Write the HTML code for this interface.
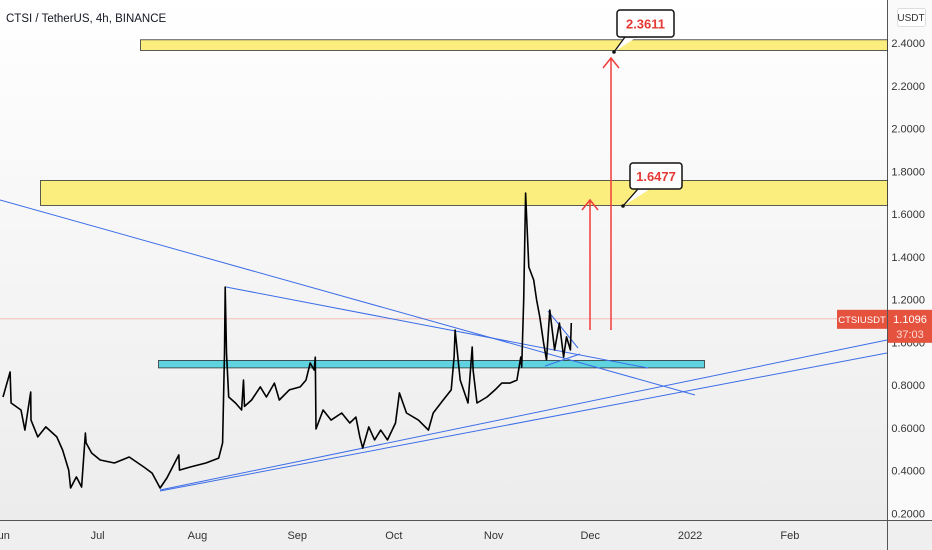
<!DOCTYPE html>
<html><head><meta charset="utf-8"><style>
html,body{margin:0;padding:0;width:932px;height:550px;overflow:hidden;background:#fff;font-family:"Liberation Sans",sans-serif}
svg{display:block}
</style></head><body>
<svg id="chart" width="932" height="550" xmlns="http://www.w3.org/2000/svg">
<defs><linearGradient id="bg" x1="0" y1="0" x2="0" y2="1"><stop offset="0" stop-color="#ffffff"/><stop offset="1" stop-color="#ececec"/></linearGradient></defs>
<rect x="0" y="0" width="887" height="520" fill="url(#bg)"/>
<rect x="0" y="520" width="932" height="30" fill="#efefef"/>
<rect x="888" y="0" width="44" height="520" fill="#fafafa"/>
<line x1="887.5" y1="0" x2="887.5" y2="550" stroke="#555" stroke-width="1"/>
<line x1="0" y1="520.5" x2="932" y2="520.5" stroke="#555" stroke-width="1"/>
<g id="gy"></g><g id="gx"></g><g id="zones"></g><g id="lines"></g><g id="series"></g><g id="annot"></g>
<text x="6" y="22" font-size="11.5" fill="#131722">CTSI / TetherUS, 4h, BINANCE</text>
<rect x="897.5" y="8.5" width="28" height="18" rx="2" fill="#fff" stroke="#ddd"/>
<text x="911" y="21" font-size="10" text-anchor="middle" fill="#333">USDT</text>
</svg>
<script>
const priceTicks=[2.4,2.2,2.0,1.8,1.6,1.4,1.2,1.0,0.8,0.6,0.4,0.2];
const monthLabels=["Jun","Jul","Aug","Sep","Oct","Nov","Dec","2022","Feb"];
const monthDays=[0,30,61,92,122,153,183,214,245];
const seriesDays=[0,2.2,2.5,5.6,6.8,8.6,8.7,10.8,13.3,16.7,18.5,20.4,21.0,22.8,24.4,25.6,25.8,27.5,30.2,34.6,39.2,43.8,46.3,48.8,50.9,54.6,54.8,58.0,63.0,67.0,68.2,68.8,69.0,69.4,70.1,72.2,74.1,74.7,75.0,77.2,79.9,81.8,84.3,85.8,88.9,92.3,94.1,95.4,96.6,97.0,97.2,99.4,101.9,105.2,107.7,109.6,110.8,111.7,113.6,115.4,117.3,119.4,121.9,123.1,125.3,129.0,132.1,133.6,136.7,139.2,140.1,140.4,142.0,144.4,145.7,146.0,147.2,150.3,152.8,154.9,157.4,159.6,160.8,161.1,161.7,162.3,163.3,164.8,165.7,166.7,167.9,168.8,169.8,171.3,172.8,174.1,175.0,176.2,176.5];
const seriesPrices=[0.744,0.861,0.716,0.683,0.589,0.767,0.636,0.557,0.604,0.557,0.496,0.402,0.318,0.370,0.323,0.575,0.529,0.482,0.449,0.435,0.463,0.416,0.388,0.318,0.365,0.473,0.402,0.416,0.435,0.458,0.529,0.950,1.258,0.950,0.744,0.716,0.683,0.823,0.700,0.730,0.791,0.744,0.809,0.730,0.777,0.791,0.823,0.903,0.870,0.930,0.594,0.683,0.636,0.669,0.622,0.650,0.557,0.505,0.604,0.543,0.589,0.543,0.622,0.763,0.669,0.636,0.589,0.669,0.730,0.777,0.931,1.057,0.823,0.716,0.978,0.870,0.716,0.744,0.777,0.809,0.809,0.823,0.931,0.884,1.198,1.698,1.352,1.291,1.198,1.118,0.997,0.917,1.151,0.964,1.090,0.931,1.025,0.964,1.090,1.198];
const zonePrices=[[2.415,2.365,1.0],[1.757,1.64,0.0],[0.915,0.88,2.0]];
const X=d=>3+d*3.22;
const Y=p=>43+(2.4-p)*213.75;
const NS="http://www.w3.org/2000/svg";
function mk(tag,attrs,parent){const e=document.createElementNS(NS,tag);for(const k in attrs)e.setAttribute(k,attrs[k]);document.getElementById(parent).appendChild(e);return e;}
priceTicks.forEach(p=>{
  const t=mk('text',{x:925,y:Y(p)+4,'font-size':'11','text-anchor':'end',fill:'#333'},'gy');
  
  
  t.textContent=p.toFixed(4);
});
monthLabels.forEach((m,i)=>{
  const t=mk('text',{x:X(monthDays[i])-2,y:539,'font-size':'11','text-anchor':'middle',fill:'#333'},'gx');
  
  
  t.textContent=m;
});
const zoneX=[[140,887],[40,887],[158,704]];
const zoneFill=['#fbee7f','#fbee7f','#5fd3e0'];
zonePrices.forEach((z,i)=>{
  const r=mk('rect',{x:zoneX[i][0]+0.5,y:Y(z[0]),width:zoneX[i][1]-zoneX[i][0],height:Y(z[1])-Y(z[0]),fill:zoneFill[i],stroke:'#333','stroke-width':'0.8'},'zones');
  
  
});
const pl=mk('line',{x1:0,y1:Y(1.1096),x2:887,y2:Y(1.1096),stroke:'#f3b3ae','stroke-width':'0.8'},'lines');


const tl=[[0,200,695,395],[226,287,648,368],[548,311,578,348],[545,366,580,354],[160,490,887,340],[160,491,887,353]];
tl.forEach(l=>{
  const e=mk('line',{x1:l[0],y1:l[1],x2:l[2],y2:l[3],stroke:'#3d6ee8','stroke-width':'1'},'lines');
  
  
});
const pts=seriesDays.map((d,i)=>X(d).toFixed(1)+','+Y(seriesPrices[i]).toFixed(1)).join(' ');
const s=mk('polyline',{points:pts,fill:'none',stroke:'#000','stroke-width':'1.6','stroke-linejoin':'round'},'series');


[[590,330,200],[611,330,58]].forEach(a=>{
  const e=mk('path',{d:`M${a[0]} ${a[1]} L${a[0]} ${a[2]} M${a[0]-8} ${a[2]+10} L${a[0]} ${a[2]} L${a[0]+8} ${a[2]+10}`,fill:'none',stroke:'#f23b3b','stroke-width':'1.5'},'annot');
  
  
});
[[617,10,57,27,614,52,'2.3611'],[630,163,52,26,623,206,'1.6477']].forEach(c=>{
  const p=mk('path',{d:`M${c[4]} ${c[5]} L${c[0]+8} ${c[1]+c[3]} L${c[0]+20} ${c[1]+c[3]}`,fill:'#fff',stroke:'#111','stroke-width':'1.3'},'annot');
  
  
  const r=mk('rect',{x:c[0],y:c[1],width:c[2],height:c[3],rx:3,fill:'#fff',stroke:'#111','stroke-width':'1.5'},'annot');
  
  
  const d=mk('circle',{cx:c[4],cy:c[5],r:1.8,fill:'#111'},'annot');
  
  
  const t=mk('text',{x:c[0]+c[2]/2,y:c[1]+c[3]/2+5,'font-size':'13','font-weight':'bold','text-anchor':'middle',fill:'#e53935'},'annot');
  
  
  t.textContent=c[6];
});
const yp=Y(1.1096);
const b1=mk('rect',{x:837,y:yp-9,width:50,height:19,fill:'#e5533f'},'annot');


const t1=mk('text',{x:862,y:yp+4,'font-size':'9.5','text-anchor':'middle',fill:'#fff'},'annot');


t1.textContent='CTSIUSDT';
const b2=mk('rect',{x:888,y:yp-9,width:44,height:33,fill:'#e5533f'},'annot');


const t2=mk('text',{x:910,y:yp+4,'font-size':'11','text-anchor':'middle',fill:'#fff'},'annot');


t2.textContent='1.1096';
const t3=mk('text',{x:910,y:yp+19,'font-size':'11','text-anchor':'middle',fill:'#ffd9d3'},'annot');


t3.textContent='37:03';
</script>
</body></html>
